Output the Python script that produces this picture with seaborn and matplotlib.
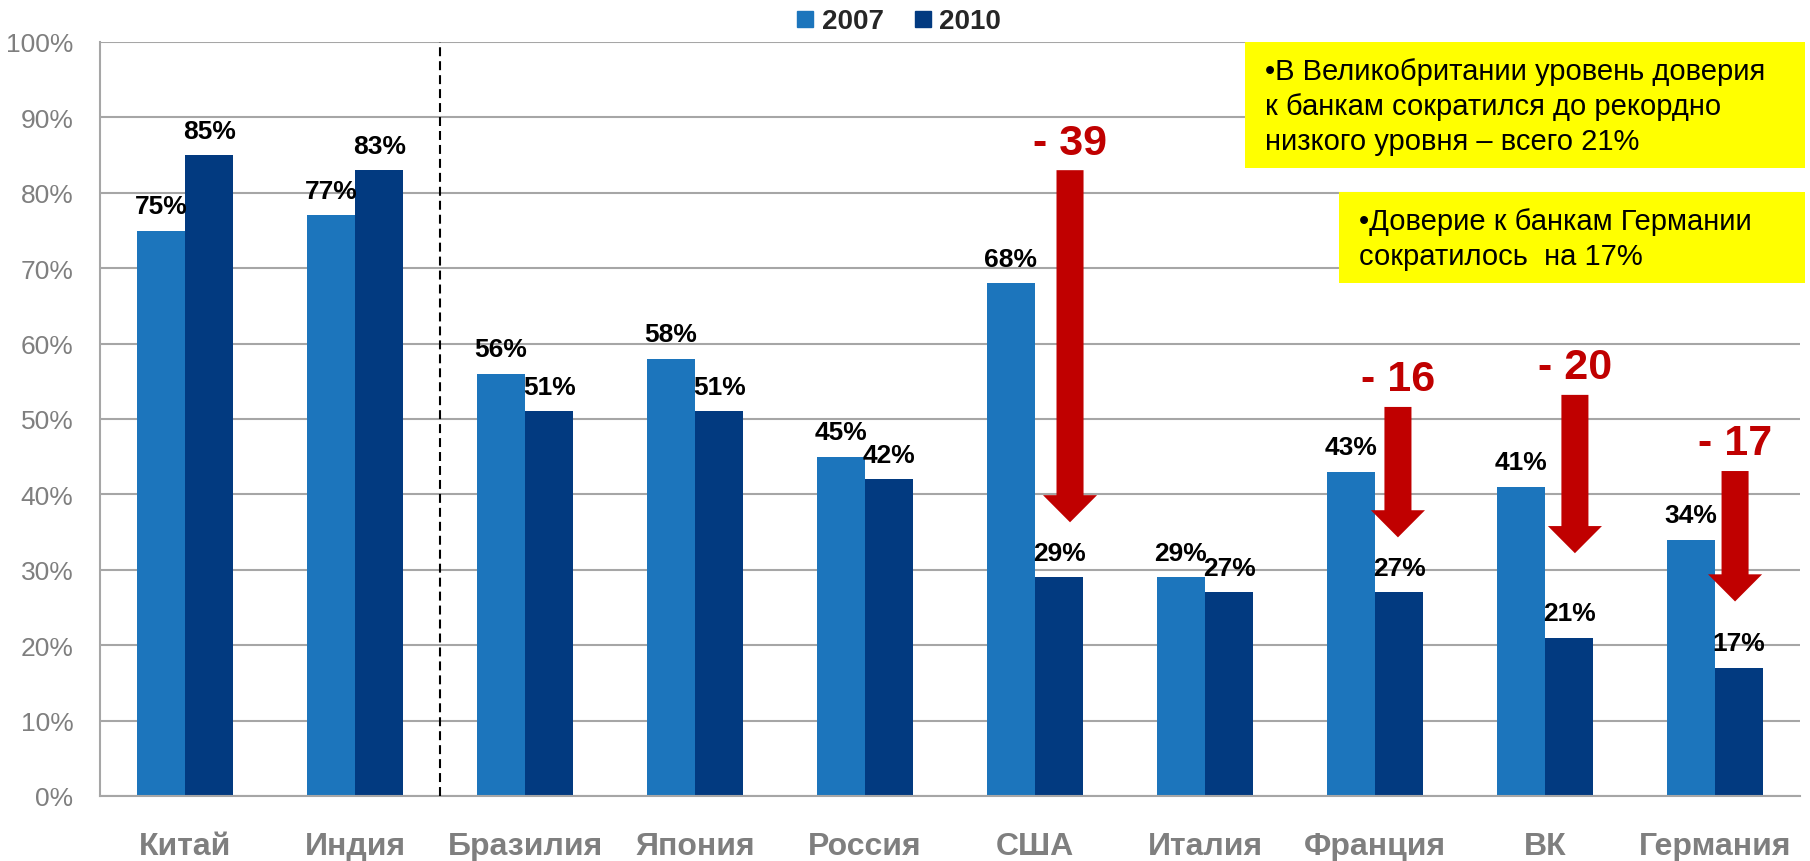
import numpy as np
import pandas as pd
import matplotlib
matplotlib.use('Agg')
import matplotlib.pyplot as plt
from matplotlib.patches import FancyArrow, Rectangle
from matplotlib.lines import Line2D
import seaborn as sns

# Данные
countries = ['Китай', 'Индия', 'Бразилия', 'Япония', 'Россия', 'США', 'Италия', 'Франция', 'ВК', 'Германия']
trust_2007 = [75, 77, 56, 58, 45, 68, 29, 43, 41, 34]
trust_2010 = [85, 83, 51, 51, 42, 29, 27, 27, 21, 17]
years = ['2007', '2010']
y_ticks = list(range(0, 101, 10))

# Стрелки падения доверия (верх, острие в %, сдвиг от центра категории)
arrow_countries = ['США', 'Франция', 'ВК', 'Германия']
arrow_top = [83, 51.6, 53.2, 43.1]
arrow_tip = [36.3, 34.3, 32.2, 25.8]
arrow_shift = [0.206, 0.135, 0.176, 0.118]

note_uk = ['•В Великобритании уровень доверия', 'к банкам сократился до рекордно', 'низкого уровня – всего 21%']
note_de = ['•Доверие к банкам Германии', 'сократилось  на 17%']

c07 = '#1C75BC'
c10 = '#023A80'
red = '#C00000'
grey = '#7F7F7F'
grid_col = '#A6A6A6'

df = pd.DataFrame({
    'country': countries * 2,
    'value': trust_2007 + trust_2010,
    'year': [years[0]] * len(countries) + [years[1]] * len(countries),
})

sns.set_style('white')
plt.rcParams['font.family'] = ['Liberation Sans', 'DejaVu Sans']

fig = plt.figure(figsize=(18.1, 8.62), dpi=100)
ax = fig.add_axes([100 / 1810, 65 / 862, 1700 / 1810, 754 / 862])

sns.barplot(data=df, x='country', y='value', hue='year', order=countries, hue_order=years,
            palette=[c07, c10], width=0.57, saturation=1, linewidth=0, legend=False, ax=ax)

ax.set_ylim(0, 100)
ax.set_xlim(-0.5, len(countries) - 0.5)
ax.set_yticks(y_ticks)
ax.set_yticklabels([f'{v}%' for v in y_ticks])
ax.set_axisbelow(True)
ax.yaxis.grid(True, color=grid_col, lw=1.5)
ax.xaxis.grid(False)
ax.set_xlabel('')
ax.set_ylabel('')

for s in ['top', 'right']:
    ax.spines[s].set_visible(False)
for s in ['left', 'bottom']:
    ax.spines[s].set_color(grid_col)
    ax.spines[s].set_linewidth(1.5)

ax.tick_params(axis='y', length=0, pad=19, labelsize=19, labelcolor=grey)
ax.tick_params(axis='x', which='major', length=0, pad=25, labelsize=23, labelcolor=grey)
for lbl in ax.get_xticklabels():
    lbl.set_fontweight('bold')
ax.set_xticks(np.arange(-0.5, len(countries)), minor=True)
ax.tick_params(axis='x', which='minor', length=8, width=1.5, color=grid_col, direction='out')

# Разделитель
ax.axvline(1.5, color='black', lw=1.5, linestyle=(0, (4.3, 2.4)), zorder=3)

# Подписи значений
for cont in ax.containers:
    ax.bar_label(cont, labels=[f'{int(round(b.get_height()))}%' for b in cont],
                 padding=9, fontsize=19, fontweight='bold', color='black')

# Стрелки
for name, top, tip, sh in zip(arrow_countries, arrow_top, arrow_tip, arrow_shift):
    i = countries.index(name)
    x = i + sh
    ax.add_patch(FancyArrow(x, top, 0, tip - top, width=0.159, head_width=0.318, head_length=3.6,
                            length_includes_head=True, color=red, lw=0, zorder=4))
    drop = trust_2007[i] - trust_2010[i]
    ax.text(x, top + 2.2, f'- {drop}', ha='center', va='baseline', fontsize=31,
            fontweight='bold', color=red, zorder=5)

# Легенда
handles = [Line2D([0], [0], marker='s', ls='', color=c, markersize=11) for c in (c07, c10)]
fig.legend(handles, years, loc='upper center', bbox_to_anchor=(0.496, 1.018), ncol=2, frameon=False,
           handletextpad=0.2, columnspacing=1.0, handlelength=0.8,
           prop={'size': 20, 'weight': 'bold'})

# Жёлтые врезки
fig.add_artist(Rectangle((1245 / 1810, 1 - 169 / 862), 560 / 1810, 126 / 862,
                         transform=fig.transFigure, facecolor='#FFFF00', edgecolor='none', zorder=5))
fig.add_artist(Rectangle((1339 / 1810, 1 - 284 / 862), 466 / 1810, 91 / 862,
                         transform=fig.transFigure, facecolor='#FFFF00', edgecolor='none', zorder=5))
for k, line in enumerate(note_uk):
    fig.text(1265 / 1810, 1 - (80 + 35 * k) / 862, line, ha='left', va='baseline', fontsize=21,
             color='black', zorder=6)
for k, line in enumerate(note_de):
    fig.text(1359 / 1810, 1 - (230 + 35 * k) / 862, line, ha='left', va='baseline', fontsize=21,
             color='black', zorder=6)

fig.savefig('out.png', dpi=100)
